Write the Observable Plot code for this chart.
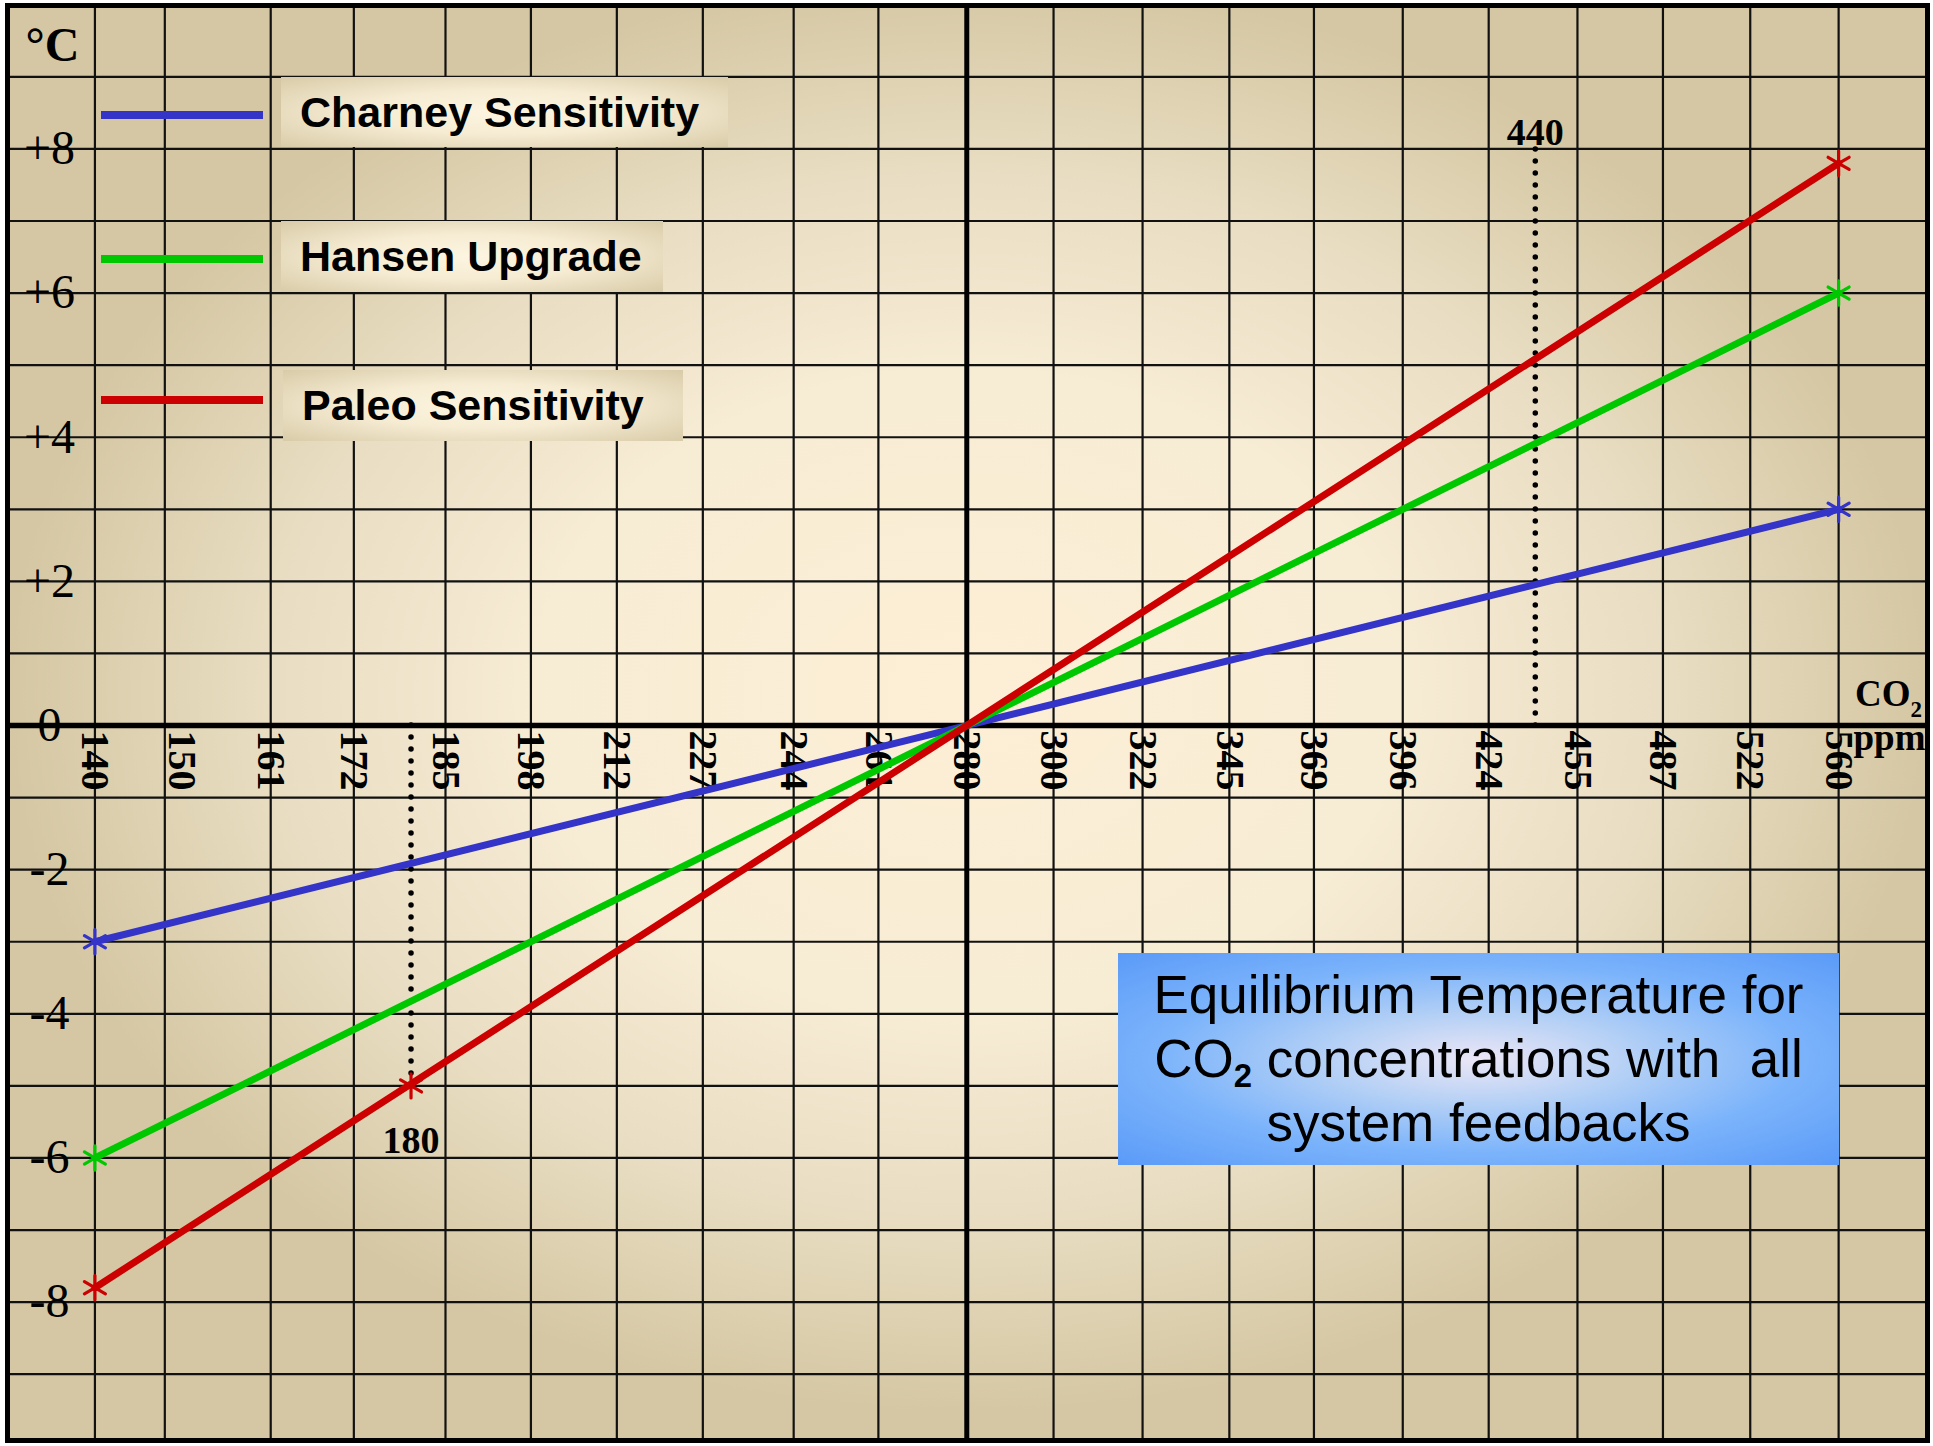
<!DOCTYPE html>
<html><head><meta charset="utf-8">
<script src="https://cdn.jsdelivr.net/npm/d3@7"></script>
<script src="https://cdn.jsdelivr.net/npm/@observablehq/plot@0.6"></script>
<style>
html,body{margin:0;padding:0;background:#fff;}
#wrap{position:relative;width:1933px;height:1446px;overflow:hidden;}
.sw{position:absolute;height:8px;left:101px;width:162px;}
.lg{position:absolute;display:flex;align-items:center;box-sizing:border-box;padding-left:19px;font:bold 43px "Liberation Sans",Arial,sans-serif;color:#000;background:radial-gradient(ellipse at center,#fdf5e1 0%,#f6ecd3 45%,#d8cba8 100%);white-space:nowrap;}
#title{position:absolute;left:1118px;top:953px;width:721px;height:212px;box-sizing:border-box;padding-top:10px;text-align:center;font:53px/64px "Liberation Sans",Arial,sans-serif;color:#000;background:radial-gradient(ellipse at center,#ece6f6 0%,#b4d0f5 30%,#7cb4fb 62%,#5a9af8 100%);}
#title sub{font-size:0.62em;font-weight:bold;vertical-align:-0.3em;line-height:0;}
</style></head><body><div id="wrap"></div>
<script>
// ---- data ----
const yTicks = [-8, -6, -4, -2, 0, 2, 4, 6, 8];
const yTickLabels = ["-8", "-6", "-4", "-2", "0", "+2", "+4", "+6", "+8"];
const yGrid = [-9, -8, -7, -6, -5, -4, -3, -2, -1, 0, 1, 2, 3, 4, 5, 6, 7, 8, 9];
const xTicks = [140, 150, 161, 172, 185, 198, 212, 227, 244, 261, 280, 300, 322, 345, 369, 396, 424, 455, 487, 522, 560];
const xTickLabels = ["140", "150", "161", "172", "185", "198", "212", "227", "244", "261", "280", "300", "322", "345", "369", "396", "424", "455", "487", "522", "560"];
const xGrid = [140, 148, 161, 172, 185, 198, 212, 227, 244, 261, 280, 300, 322, 345, 369, 396, 424, 455, 487, 522, 560];
const seriesNames = ["Charney Sensitivity", "Hansen Upgrade", "Paleo Sensitivity"];
const seriesColors = ["#3434c8", "#00c800", "#cc0000"];
const co2 = [140, 560];
const charney = [-3, 3];
const hansen = [-6, 6];
const paleo = [-7.8, 7.8];
const paleoMarkCo2 = [180];
const paleoMarkTemp = [-5];
const dropCo2 = [180, 440];
const dropTemp = [-5.15, 8.05];
const dropLabels = ["180", "440"];
const dropLabelTemp = [-5.76, 8.23];

// ---- build ----
const temps = [charney, hansen, paleo];
const seriesRows = seriesNames.map((s, k) => co2.map((c, i) => ({series: s, co2: c, temp: temps[k][i]})));
const markRows = seriesRows.map((rows, k) => k === 2
  ? rows.concat(paleoMarkCo2.map((c, i) => ({series: seriesNames[k], co2: c, temp: paleoMarkTemp[i]})))
  : rows);
const drops = dropCo2.map((c, i) => ({co2: c, temp: dropTemp[i], label: dropLabels[i], ly: dropLabelTemp[i]}));
const tickRows = xTicks.map((t, i) => ({co2: t, label: xTickLabels[i]}));

const serif = '"Liberation Serif","Times New Roman",serif';
const marks = [
  Plot.frame({fill: "url(#bgGrad)", stroke: null}),
  Plot.ruleY(yGrid, {stroke: "#111", strokeWidth: 2.2}),
  Plot.ruleX(xGrid, {stroke: "#111", strokeWidth: 2.2}),
  Plot.ruleY([0], {stroke: "#000", strokeWidth: 5.5}),
  Plot.ruleX([280], {stroke: "#000", strokeWidth: 5}),
  Plot.axisY({ticks: yTicks, tickFormat: d => yTickLabels[yTicks.indexOf(d)], anchor: "left", tickSize: 0, tickPadding: 0, textAnchor: "middle", dx: 42, fontSize: 48, fill: "#000", label: null, fontFamily: serif}),
  Plot.text(tickRows, {x: "co2", y: 0, text: "label", rotate: 90, textAnchor: "start", lineAnchor: "middle", dy: 5, fontSize: 40, fontWeight: "bold", fontFamily: serif, fill: "#000"}),
  Plot.ruleX(drops, {x: "co2", y1: 0, y2: "temp", stroke: "#000", strokeWidth: 5.5, strokeDasharray: "0,12", strokeLinecap: "round"}),
  ...seriesRows.map((rows, k) => Plot.line(rows, {x: "co2", y: "temp", stroke: seriesColors[k], strokeWidth: 7})),
  ...markRows.map((rows, k) => Plot.dot(rows, {x: "co2", y: "temp", stroke: seriesColors[k], symbol: "asterisk", r: 11.5, strokeWidth: 3.2, strokeLinecap: "round"})),
  Plot.text(drops, {x: "co2", y: "ly", text: "label", fontSize: 38, fontWeight: "bold", fontFamily: serif, fill: "#000"}),
  Plot.text(["°C"], {frameAnchor: "top-left", dx: 45, dy: 55, textAnchor: "middle", lineAnchor: "bottom", fontSize: 48, fontWeight: "bold", fontFamily: serif, fill: "#000"}),
  Plot.text(["CO"], {frameAnchor: "top-right", dx: -17, dy: 700, textAnchor: "end", lineAnchor: "bottom", fontSize: 37, fontWeight: "bold", fontFamily: serif, fill: "#000"}),
  Plot.text(["2"], {frameAnchor: "top-right", dx: -17, dy: 711, textAnchor: "start", lineAnchor: "bottom", fontSize: 23, fontWeight: "bold", fontFamily: serif, fill: "#000"}),
  Plot.text(["ppm"], {frameAnchor: "top-right", dx: -2, dy: 744, textAnchor: "end", lineAnchor: "bottom", fontSize: 37, fontWeight: "bold", fontFamily: serif, fill: "#000"}),
  Plot.frame({stroke: "#000", strokeWidth: 5})
];

const svg = Plot.plot({
  width: 1933, height: 1446,
  marginLeft: 7, marginRight: 6, marginTop: 5, marginBottom: 6,
  x: {type: "log", domain: [130.6, 601], axis: null},
  y: {domain: [-9.92, 9.99]},
  style: {fontFamily: serif, background: "white", color: "#000"},
  marks
});
d3.select(svg).insert("defs", ":first-child").html(
  '<radialGradient id="bgGrad" cx="0.5" cy="0.48" r="0.5" gradientUnits="objectBoundingBox">' +
  '<stop offset="0" stop-color="#fdefd6"/><stop offset="0.45" stop-color="#f7ecd4"/>' +
  '<stop offset="0.72" stop-color="#e9dec3"/><stop offset="1" stop-color="#d5c7a3"/></radialGradient>');
const wrap = document.getElementById("wrap");
wrap.appendChild(svg);

// legend overlay
const legTop = [111, 255, 396];
const boxes = [[281, 77, 447, 70], [281, 221, 382, 71], [283, 370, 400, 71]];
seriesNames.forEach((s, k) => {
  const sw = document.createElement("div");
  sw.className = "sw"; sw.style.top = legTop[k] + "px"; sw.style.background = seriesColors[k];
  wrap.appendChild(sw);
  const b = document.createElement("div");
  b.className = "lg";
  const [l, t, w, h] = boxes[k];
  Object.assign(b.style, {left: l + "px", top: t + "px", width: w + "px", height: h + "px"});
  b.textContent = s;
  wrap.appendChild(b);
});
const title = document.createElement("div");
title.id = "title";
title.innerHTML = "Equilibrium Temperature for<br>CO<sub>2</sub> concentrations with&nbsp; all<br>system feedbacks";
wrap.appendChild(title);
</script></body></html>
